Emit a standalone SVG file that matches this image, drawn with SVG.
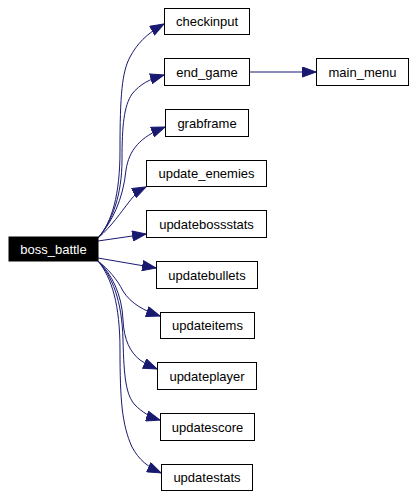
<svg xmlns="http://www.w3.org/2000/svg" width="415" height="498" viewBox="0 0 415 498">
<style>
.n rect{fill:#fff;stroke:#000;stroke-width:1}
.n text{font-family:"Liberation Sans",Arial,sans-serif;font-size:13px;text-anchor:middle;fill:#000}
#boss_battle rect{fill:#000}
#boss_battle text{fill:#fff}
.e path{fill:none;stroke:#191970;stroke-width:1}
</style>
<defs>
<marker id="a" markerUnits="userSpaceOnUse" markerWidth="15" markerHeight="11" refX="14" refY="5.5" orient="auto" viewBox="0 0 15 11">
<path d="M0.5,0.5 L14,5.5 L0.5,10.5 Z" fill="#191970" stroke="#191970"/>
</marker>
</defs>
<rect width="415" height="498" fill="#fff"/>
<g id="edges" class="e">
<path marker-end="url(#a)" d="M98,238 C112,222 120,195 120,150 C120,95 122,72 130,57 C137,44 146,34 164,24"/>
<path marker-end="url(#a)" d="M98,238 C112,222 122,195 122,160 C122,125 124,106 132,94 C140,84 150,79 164,75"/>
<path marker-end="url(#a)" d="M98,238 C112,222 123,200 126,170 C129,150 140,137 165,127"/>
<path marker-end="url(#a)" d="M98,238 C112,226 121,212 129,202 C135,194 140,190 146,187"/>
<path marker-end="url(#a)" d="M98,241 L146,234"/>
<path marker-end="url(#a)" d="M98,258 L156,268"/>
<path marker-end="url(#a)" d="M98,261 C108,269 117,279 123,291 C131,304 145,311 160,316"/>
<path marker-end="url(#a)" d="M98,261 C112,274 122,295 123,320 C124,340 130,352 140,360 C146,364 150,366 157,369"/>
<path marker-end="url(#a)" d="M98,261 C112,276 122,300 123,340 C124,378 126,395 135,405 C142,412 150,417 160,420"/>
<path marker-end="url(#a)" d="M98,261 C112,278 120,305 120,350 C120,400 122,425 132,447 C139,460 148,467 161,473"/>
<path marker-end="url(#a)" d="M249,72 L316,72"/>
</g>
<g id="boss_battle" class="n"><rect x="9" y="237" width="89" height="24"/><text x="53.5" y="253.5">boss_battle</text></g>
<g id="checkinput" class="n"><rect x="164.5" y="8.5" width="85" height="26"/><text x="207" y="26">checkinput</text></g>
<g id="end_game" class="n"><rect x="164.5" y="58.5" width="85" height="27"/><text x="207" y="76.5">end_game</text></g>
<g id="main_menu" class="n"><rect x="316.5" y="58.5" width="92" height="27"/><text x="362.5" y="76.5">main_menu</text></g>
<g id="grabframe" class="n"><rect x="165.5" y="109.5" width="83" height="27"/><text x="207" y="127.5">grabframe</text></g>
<g id="update_enemies" class="n"><rect x="146.5" y="160.5" width="120" height="26"/><text x="206.5" y="178">update_enemies</text></g>
<g id="updatebossstats" class="n"><rect x="146.5" y="210.5" width="120" height="27"/><text x="206.5" y="228.5">updatebossstats</text></g>
<g id="updatebullets" class="n"><rect x="156.5" y="261.5" width="101" height="27"/><text x="207" y="279.5">updatebullets</text></g>
<g id="updateitems" class="n"><rect x="160.5" y="312.5" width="94" height="26"/><text x="207.5" y="330">updateitems</text></g>
<g id="updateplayer" class="n"><rect x="157.5" y="362.5" width="99" height="27"/><text x="207" y="380.5">updateplayer</text></g>
<g id="updatescore" class="n"><rect x="160.5" y="413.5" width="94" height="27"/><text x="207.5" y="431.5">updatescore</text></g>
<g id="updatestats" class="n"><rect x="161.5" y="464.5" width="91" height="26"/><text x="207" y="482">updatestats</text></g>
</svg>
